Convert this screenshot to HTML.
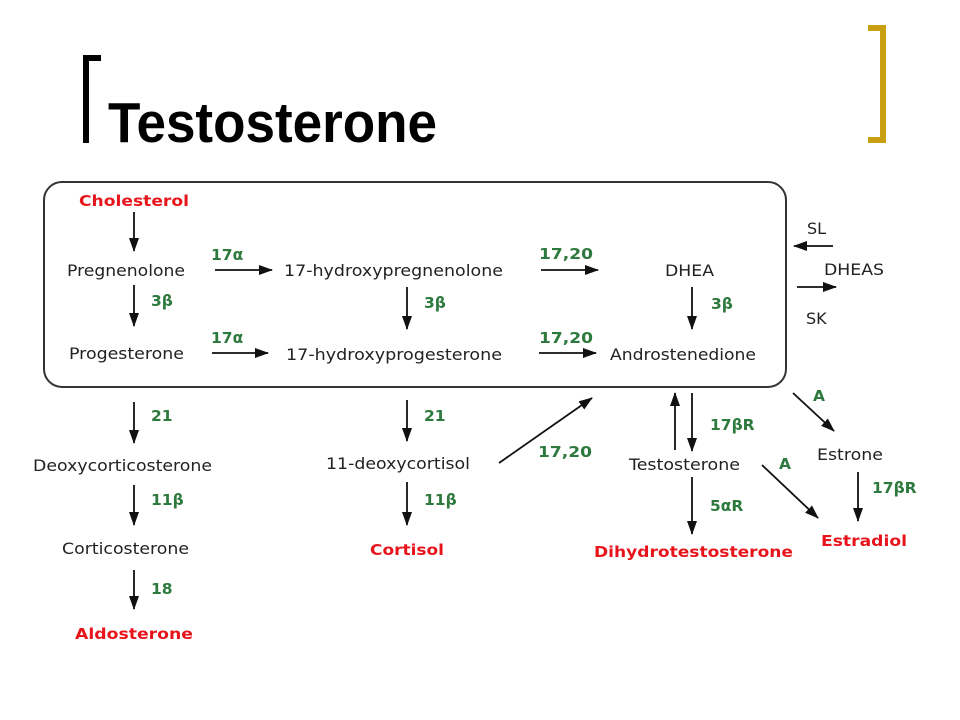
<!DOCTYPE html>
<html><head><meta charset="utf-8"><style>
html,body{margin:0;padding:0;background:#fff;width:960px;height:720px;overflow:hidden}
svg{display:block}
.t{font-family:"DejaVu Sans","Liberation Sans",sans-serif;font-size:16px;fill:#222}
.g{font-family:"DejaVu Sans","Liberation Sans",sans-serif;font-size:15.5px;font-weight:bold;fill:#2e7a3e}
.r{font-family:"DejaVu Sans","Liberation Sans",sans-serif;font-size:15.5px;font-weight:bold;fill:#e8141c}
</style></head><body>
<svg width="960" height="720" viewBox="0 0 960 720" xmlns="http://www.w3.org/2000/svg">
<defs><marker id="a" markerWidth="14" markerHeight="10" refX="13" refY="5" orient="auto" markerUnits="userSpaceOnUse"><path d="M0,0 L14,5 L0,10 z" fill="#111"/></marker></defs>
<path d="M86,143 V58 H101" fill="none" stroke="#000" stroke-width="6"/>
<path d="M868,28 H883 V140 H868" fill="none" stroke="#c9a00f" stroke-width="6"/>
<text x="108" y="142" font-family="'Liberation Sans',sans-serif" font-weight="bold" font-size="57" textLength="329" lengthAdjust="spacingAndGlyphs">Testosterone</text>
<rect x="44" y="182" width="742" height="205" rx="18" fill="none" stroke="#333" stroke-width="2"/>
<g stroke="#111" stroke-width="1.8" marker-end="url(#a)">
<line x1="134" y1="212" x2="134" y2="251"/>
<line x1="215" y1="270" x2="272" y2="270"/>
<line x1="541" y1="270" x2="598" y2="270"/>
<line x1="134" y1="285" x2="134" y2="326"/>
<line x1="407" y1="287" x2="407" y2="329"/>
<line x1="692" y1="287" x2="692" y2="329"/>
<line x1="212" y1="353" x2="268" y2="353"/>
<line x1="539" y1="353" x2="596" y2="353"/>
<line x1="833" y1="246" x2="794" y2="246"/>
<line x1="797" y1="287" x2="836" y2="287"/>
<line x1="134" y1="402" x2="134" y2="443"/>
<line x1="134" y1="485" x2="134" y2="525"/>
<line x1="134" y1="570" x2="134" y2="609"/>
<line x1="407" y1="400" x2="407" y2="441"/>
<line x1="407" y1="482" x2="407" y2="525"/>
<line x1="499" y1="463" x2="592" y2="398"/>
<line x1="675" y1="450" x2="675" y2="393"/>
<line x1="692" y1="393" x2="692" y2="451"/>
<line x1="692" y1="477" x2="692" y2="534"/>
<line x1="793" y1="393" x2="834" y2="431"/>
<line x1="858" y1="472" x2="858" y2="521"/>
<line x1="762" y1="465" x2="818" y2="518"/>
</g>
<text class="r" x="79" y="206" textLength="110" lengthAdjust="spacingAndGlyphs">Cholesterol</text>
<text class="t" x="67" y="276" textLength="118" lengthAdjust="spacingAndGlyphs">Pregnenolone</text>
<text class="g" x="211" y="260">17α</text>
<text class="t" x="284" y="276" textLength="219" lengthAdjust="spacingAndGlyphs">17-hydroxypregnenolone</text>
<text class="g" x="539" y="259" textLength="54" lengthAdjust="spacingAndGlyphs">17,20</text>
<text class="t" x="665" y="276" textLength="49" lengthAdjust="spacingAndGlyphs">DHEA</text>
<text class="g" x="151" y="306">3β</text>
<text class="g" x="424" y="308">3β</text>
<text class="g" x="711" y="309">3β</text>
<text class="t" x="69" y="359" textLength="115" lengthAdjust="spacingAndGlyphs">Progesterone</text>
<text class="g" x="211" y="343">17α</text>
<text class="t" x="286" y="360" textLength="216" lengthAdjust="spacingAndGlyphs">17-hydroxyprogesterone</text>
<text class="g" x="539" y="343" textLength="54" lengthAdjust="spacingAndGlyphs">17,20</text>
<text class="t" x="610" y="360" textLength="146" lengthAdjust="spacingAndGlyphs">Androstenedione</text>
<text class="t" x="807" y="234">SL</text>
<text class="t" x="824" y="275" textLength="60" lengthAdjust="spacingAndGlyphs">DHEAS</text>
<text class="t" x="806" y="324">SK</text>
<text class="g" x="151" y="421">21</text>
<text class="t" x="33" y="471" textLength="179" lengthAdjust="spacingAndGlyphs">Deoxycorticosterone</text>
<text class="g" x="151" y="505">11β</text>
<text class="t" x="62" y="554" textLength="127" lengthAdjust="spacingAndGlyphs">Corticosterone</text>
<text class="g" x="151" y="594">18</text>
<text class="r" x="75" y="639" textLength="118" lengthAdjust="spacingAndGlyphs">Aldosterone</text>
<text class="g" x="424" y="421">21</text>
<text class="t" x="326" y="469" textLength="144" lengthAdjust="spacingAndGlyphs">11-deoxycortisol</text>
<text class="g" x="424" y="505">11β</text>
<text class="r" x="370" y="555" textLength="74" lengthAdjust="spacingAndGlyphs">Cortisol</text>
<text class="g" x="538" y="457" textLength="54" lengthAdjust="spacingAndGlyphs">17,20</text>
<text class="g" x="710" y="430">17βR</text>
<text class="t" x="629" y="470" textLength="111" lengthAdjust="spacingAndGlyphs">Testosterone</text>
<text class="g" x="710" y="511">5αR</text>
<text class="r" x="594" y="557" textLength="199" lengthAdjust="spacingAndGlyphs">Dihydrotestosterone</text>
<text class="g" x="813" y="401">A</text>
<text class="g" x="779" y="469">A</text>
<text class="t" x="817" y="460" textLength="66" lengthAdjust="spacingAndGlyphs">Estrone</text>
<text class="g" x="872" y="493">17βR</text>
<text class="r" x="821" y="546" textLength="86" lengthAdjust="spacingAndGlyphs">Estradiol</text>
</svg>
</body></html>
